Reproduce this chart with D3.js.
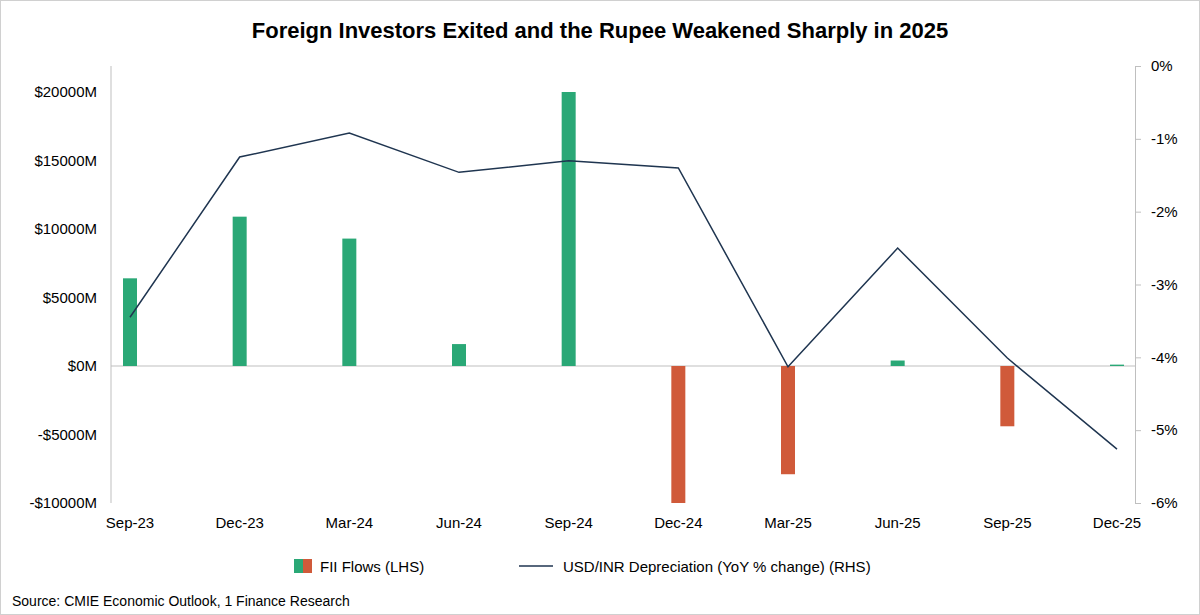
<!DOCTYPE html>
<html><head><meta charset="utf-8">
<script src="https://cdn.jsdelivr.net/npm/d3@7"></script>
<style>body{margin:0;background:#fff;font-family:"Liberation Sans",Arial,sans-serif}</style>
</head><body>
<svg width="1200" height="615"></svg>
<script>
var categories = ["Sep-23","Dec-23","Mar-24","Jun-24","Sep-24","Dec-24","Mar-25","Jun-25","Sep-25","Dec-25"];
var fiiFlows = [6400,10900,9300,1600,20000,-10000,-7900,400,-4400,100];
var usdInr = [-3.45,-1.25,-0.92,-1.46,-1.30,-1.40,-4.13,-2.50,-4.01,-5.26];
var leftTicks = [-10000,-5000,0,5000,10000,15000,20000];
var rightTicks = [0,-1,-2,-3,-4,-5,-6];

var svg = d3.select("svg");
var green = "#2aa876", red = "#d05a3a", navy = "#1f3550";
svg.append("rect").attr("x",0.5).attr("y",0.5).attr("width",1199).attr("height",614)
  .attr("fill","#fff").attr("stroke","#d0d0d0");

var plotTop = 66, plotBottom = 503, plotLeft = 111, plotRight = 1135;
var x = d3.scalePoint().domain(categories).range([130,1117]);
var yL = d3.scaleLinear().domain([-10000, 20000 + 26/13.7*1000]).range([plotBottom, plotTop]);
var yR = d3.scaleLinear().domain([-6, 0]).range([plotBottom, plotTop]);

svg.append("text").attr("x",600).attr("y",38).attr("text-anchor","middle")
  .attr("font-size",22).attr("font-weight","bold").text("Foreign Investors Exited and the Rupee Weakened Sharply in 2025");

var axL = svg.append("g").attr("transform","translate("+plotLeft+",0)")
  .call(d3.axisLeft(yL).tickValues(leftTicks).tickSize(0).tickPadding(14)
    .tickFormat(function(d){ return (d<0?"-$":"$")+Math.abs(d)+"M"; }));
axL.select(".domain").attr("stroke","#bfbfbf").attr("d","M0,"+plotTop+"V"+plotBottom);
var axR = svg.append("g").attr("transform","translate("+plotRight+",0)")
  .call(d3.axisRight(yR).tickValues(rightTicks).tickSizeInner(6).tickSizeOuter(0).tickPadding(10)
    .tickFormat(function(d){ return d+"%"; }));
axR.select(".domain").attr("stroke","#bfbfbf");
axR.selectAll(".tick line").attr("stroke","#bfbfbf");
svg.selectAll(".tick text").attr("font-size",15).attr("fill","#000").attr("font-family","Liberation Sans, Arial");

svg.append("line").attr("x1",plotLeft).attr("x2",plotRight).attr("y1",yL(0)).attr("y2",yL(0)).attr("stroke","#bfbfbf");

svg.selectAll(".bar").data(fiiFlows).enter().append("rect")
  .attr("x",function(d,i){ return x(categories[i])-7; }).attr("width",14)
  .attr("y",function(d){ return yL(Math.max(0,d)); })
  .attr("height",function(d){ return Math.abs(yL(d)-yL(0)); })
  .attr("fill",function(d){ return d<0?red:green; });

svg.append("path").datum(usdInr).attr("fill","none").attr("stroke",navy).attr("stroke-width",1.5)
  .attr("d", d3.line().x(function(d,i){ return x(categories[i]); }).y(function(d){ return yR(d); }));

svg.selectAll(".xl").data(categories).enter().append("text")
  .attr("x",function(d){ return x(d); }).attr("y",528).attr("text-anchor","middle")
  .attr("font-size",15).text(function(d){ return d; });

var lg = svg.append("g");
lg.append("rect").attr("x",294).attr("y",559).attr("width",9).attr("height",14).attr("fill",green);
lg.append("rect").attr("x",303).attr("y",559).attr("width",9).attr("height",14).attr("fill",red);
lg.append("text").attr("x",320).attr("y",572).attr("font-size",15).text("FII Flows (LHS)");
lg.append("line").attr("x1",519).attr("x2",553).attr("y1",566).attr("y2",566).attr("stroke",navy).attr("stroke-width",1.5);
lg.append("text").attr("x",563).attr("y",572).attr("font-size",15).text("USD/INR Depreciation (YoY % change) (RHS)");

svg.append("text").attr("x",12).attr("y",606).attr("font-size",14).text("Source: CMIE Economic Outlook, 1 Finance Research");
</script>
</body></html>
